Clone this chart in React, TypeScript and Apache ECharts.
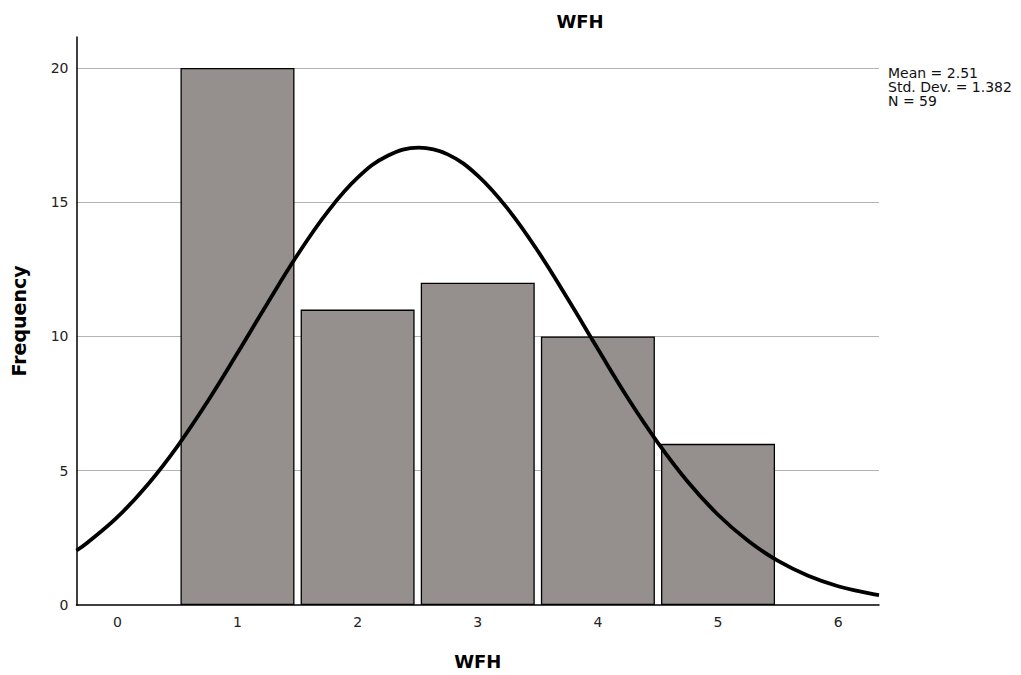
import React, { useEffect, useRef } from "react";
import * as echarts from "echarts";

const binCenters = [1, 2, 3, 4, 5];
const frequencies = [20, 11, 12, 10, 6];
const curveX = [-0.34, -0.25, 0, 0.25, 0.5, 0.75, 1, 1.25, 1.5, 1.75, 2, 2.25, 2.51, 2.75, 3, 3.25, 3.5, 3.75, 4, 4.25, 4.5, 4.75, 5, 5.25, 5.5, 5.75, 6, 6.25, 6.34];
const curveY = [2.03, 2.32, 3.27, 4.47, 5.91, 7.57, 9.38, 11.24, 13.04, 14.64, 15.91, 16.73, 17.03, 16.78, 15.99, 14.75, 13.18, 11.39, 9.53, 7.7, 6.04, 4.58, 3.36, 2.39, 1.64, 1.09, 0.7, 0.44, 0.37];
const xTickValues = [0, 1, 2, 3, 4, 5, 6];
const yTickValues = [0, 5, 10, 15, 20];
const gridValues = [5, 10, 15, 20];
const statsLines = ["Mean = 2.51", "Std. Dev. = 1.382", "N = 59"];
const chartTitle = "WFH";
const xName = "WFH";
const yName = "Frequency";

const FONT = "DejaVu Sans";

export default function App() {
  const ref = useRef<HTMLDivElement>(null);
  useEffect(() => {
    if (!ref.current) return;
    const chart = echarts.init(ref.current, null, { renderer: "svg" });
    chart.setOption({
      animation: false,
      backgroundColor: "#ffffff",
      textStyle: { fontFamily: FONT },
      grid: { left: 76.5, right: 142, top: 37, bottom: 70, containLabel: false, outerBoundsMode: "none" },
      xAxis: {
        type: "value",
        min: -0.34,
        max: 6.34,
        name: xName,
        nameLocation: "middle",
        nameGap: 47,
        nameTextStyle: { fontFamily: FONT, fontWeight: "bold", fontSize: 18, color: "#000" },
        axisLine: { show: true, onZero: false, lineStyle: { color: "#000", width: 1.5 } },
        axisTick: { show: false, customValues: xTickValues },
        axisLabel: { customValues: xTickValues, fontFamily: FONT, fontSize: 14, color: "#222", margin: 10 },
        splitLine: { show: false },
      },
      yAxis: {
        type: "value",
        min: 0,
        max: 21.15,
        name: yName,
        nameLocation: "middle",
        nameGap: 48,
        nameRotate: 90,
        nameTextStyle: { fontFamily: FONT, fontWeight: "bold", fontSize: 19, color: "#000" },
        axisLine: { show: true, onZero: false, lineStyle: { color: "#000", width: 1.5 } },
        axisTick: { show: false, customValues: gridValues },
        axisLabel: { customValues: yTickValues, fontFamily: FONT, fontSize: 14, color: "#222", margin: 8 },
        splitLine: { show: true, lineStyle: { color: "#b4b4b4", width: 1 } },
      },
      series: [
        {
          type: "bar",
          data: binCenters.map((c, i) => [c, frequencies[i]]),
          barWidth: 114,
          itemStyle: { color: "#958f8e", borderColor: "#000", borderWidth: 1.3 },
          z: 2,
        },
        {
          type: "line",
          data: curveX.map((x, i) => [x, curveY[i]]),
          smooth: 0.4,
          showSymbol: false,
          lineStyle: { color: "#000", width: 3.8 },
          z: 3,
        },
      ],
      graphic: [
        {
          type: "text",
          x: 580,
          y: 21,
          style: {
            text: chartTitle,
            fontFamily: FONT,
            fontWeight: "bold",
            fontSize: 18,
            fill: "#000",
            textAlign: "center",
            textVerticalAlign: "middle",
          },
        },
        {
          type: "text",
          x: 888,
          y: 66,
          style: {
            text: statsLines.join("\n"),
            fontFamily: FONT,
            fontSize: 14,
            lineHeight: 14,
            fill: "#111",
            textAlign: "left",
            textVerticalAlign: "top",
          },
        },
      ],
    });
    return () => chart.dispose();
  }, []);
  return (
    <div
      ref={ref}
      style={{ position: "absolute", left: 0, top: 0, width: 1021, height: 675 }}
    />
  );
}
